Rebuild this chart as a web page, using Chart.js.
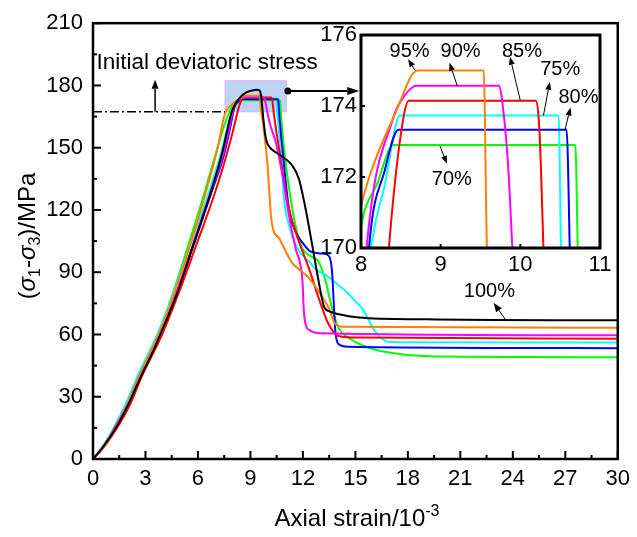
<!DOCTYPE html>
<html>
<head>
<meta charset="utf-8">
<script src="https://cdn.jsdelivr.net/npm/chart.js@4.4.0/dist/chart.umd.min.js"></script>
<style>
  html, body { margin: 0; padding: 0; background: #fff; }
  #wrap { position: relative; width: 637px; height: 537px; }
  #mainChart { position: absolute; left: 0; top: 0; }
  #insetChart { position: absolute; left: 290px; top: 15px; }
</style>
</head>
<body>
<div id="wrap">
  <canvas id="mainChart" width="637" height="537"></canvas>
  <canvas id="insetChart" width="330" height="290"></canvas>
</div>
<script>
// curve data (axial strain /10^-3, deviatoric stress /MPa)
const strain100 = [0, 0.5, 1.4, 2.0, 2.72, 3.3, 3.85, 4.79, 5.73, 6.68, 7.4, 7.9, 8.2, 8.5, 8.8, 9.1, 9.4, 9.55, 9.65, 9.75, 9.89, 10.1, 10.45, 11.0, 11.4, 11.77, 12.15, 12.53, 12.9, 13.2, 13.5, 14.2, 15.2, 19.0, 30];
const stress100 = [0, 5, 16.3, 26, 39.4, 49.5, 60.1, 79.3, 103.2, 127.1, 148, 166.5, 172, 175, 176.8, 177.6, 177.9, 177.3, 172, 163, 154.2, 150.3, 147.8, 144.6, 141.3, 135, 120.7, 103.2, 85.6, 73.5, 71.2, 69.5, 68.2, 67.3, 66.8];

const strain95 = [0, 0.6, 1.35, 2.0, 2.65, 3.75, 4.65, 5.55, 6.5, 7.1, 7.53, 8.0, 8.45, 8.71, 9.54, 9.58, 9.7, 9.98, 10.17, 10.3, 10.64, 11.02, 11.39, 11.77, 12.34, 12.9, 13.47, 13.85, 14.3, 30];
const stress95 = [0, 6, 16, 27, 40, 60, 80, 103, 130, 149, 166, 171.2, 173.9, 175, 175, 170, 163, 141.5, 117.5, 110.5, 106.4, 100, 94.4, 91.5, 87.2, 80.8, 72.9, 65, 63.7, 63.3];

const strain90 = [0, 0.6, 1.3, 2.0, 2.65, 3.8, 4.75, 5.7, 6.7, 7.45, 7.8, 8.07, 8.41, 8.55, 8.7, 9.73, 9.79, 9.85, 9.9, 10.1, 10.45, 10.83, 11.2, 11.6, 11.87, 11.98, 12.05, 12.15, 12.4, 13.0, 30];
const stress90 = [0, 6, 16, 27, 40, 60, 80, 103, 128, 147, 160, 170, 173.7, 174.3, 174.57, 174.57, 173.8, 172.2, 170, 162, 152.6, 136.7, 117.5, 101, 93, 85, 72, 65, 62, 60.6, 59.6];

const strain85 = [0, 0.6, 1.45, 2.1, 2.8, 3.95, 4.9, 5.9, 7.0, 7.65, 8.0, 8.2, 8.35, 8.5, 8.6, 10.19, 10.24, 10.29, 10.36, 10.64, 11.2, 11.77, 12.34, 12.9, 13.47, 14.03, 15.36, 30];
const stress85 = [0, 5.5, 16, 26, 40, 60, 80, 103, 129, 147, 158, 165, 170, 173.2, 174.15, 174.15, 173.3, 170, 165, 149.4, 120.7, 104.8, 92, 77.6, 64.9, 59.3, 58.5, 58.0];

const strain80 = [0, 0.6, 1.4, 2.0, 2.72, 3.85, 4.8, 5.75, 6.75, 7.5, 7.85, 8.1, 8.3, 8.47, 10.58, 10.62, 10.66, 10.83, 11.2, 11.58, 12.0, 12.43, 13.1, 13.47, 13.66, 13.75, 13.85, 14.03, 14.6, 30];
const stress80 = [0, 6, 16, 26, 40, 60, 80, 103, 128, 147, 160, 170, 172.2, 173.33, 173.33, 170, 165, 149.4, 120.7, 109.6, 104, 100, 99, 98, 91, 77.6, 62, 55.4, 54.1, 53.4];

const strain75 = [0, 0.6, 1.25, 1.9, 2.55, 3.68, 4.6, 5.55, 6.6, 7.3, 7.7, 7.95, 8.125, 8.3, 8.49, 10.48, 10.51, 10.55, 10.73, 10.92, 11.2, 11.68, 12.34, 12.8, 13.29, 14.0, 14.5, 15.0, 15.36, 15.7, 16.11, 16.87, 18, 30];
const stress75 = [0, 6.5, 16, 27, 40, 60, 80, 103, 128, 147, 160, 166, 170, 171.8, 173.73, 173.73, 170, 165, 149.4, 125.5, 112.8, 101.6, 95.2, 91, 88.8, 84, 80.5, 76, 72.9, 68, 61.7, 56.5, 56.2, 56.1];

const strain70 = [0, 0.6, 1.3, 2.0, 2.6, 3.7, 4.57, 5.45, 6.4, 7.05, 7.55, 8.0, 8.2, 8.41, 10.69, 10.72, 10.76, 10.92, 11.39, 11.7, 12.0, 12.5, 12.9, 13.3, 13.66, 14.03, 14.6, 15.73, 17.6, 21, 30];
const stress70 = [0, 6.5, 16, 28, 40, 60, 80, 103, 129, 148, 162, 170.6, 171.8, 172.9, 172.9, 170, 165, 149.4, 120.7, 108, 101, 97.5, 95, 85.6, 72.9, 63.3, 58.5, 53.7, 50.5, 49.3, 49.0];

const seriesNames = ["100%", "95%", "90%", "85%", "80%", "75%", "70%"];
const seriesColors = ["#000000", "#ff8000", "#ff00ff", "#ff0000", "#0000ff", "#00ffff", "#00ff00"];

const xTicks = [0, 3, 6, 9, 12, 15, 18, 21, 24, 27, 30];
const yTicks = [0, 30, 60, 90, 120, 150, 180, 210];
const insetXTicks = [8, 9, 10, 11];
const insetYTicks = [170, 172, 174, 176];

const FONT = "'Liberation Sans', Arial, sans-serif";

const allStrain = [strain100, strain95, strain90, strain85, strain80, strain75, strain70];
const allStress = [stress100, stress95, stress90, stress85, stress80, stress75, stress70];

const makeDatasets = (skip) =>
  seriesNames
    .map((name, i) => ({
      label: name,
      data: allStrain[i].map((x, j) => ({ x: x, y: allStress[i][j] })),
      borderColor: seriesColors[i],
      borderWidth: 2,
      pointRadius: 0,
      fill: false,
      cubicInterpolationMode: "monotone",
    }))
    .filter((d) => !skip.includes(d.label));

function arrow(ctx, x1, y1, x2, y2, head, half, lw) {
  const a = Math.atan2(y2 - y1, x2 - x1);
  const bx = x2 - head * Math.cos(a);
  const by = y2 - head * Math.sin(a);
  ctx.lineWidth = lw;
  ctx.beginPath();
  ctx.moveTo(x1, y1);
  ctx.lineTo(bx, by);
  ctx.stroke();
  ctx.beginPath();
  ctx.moveTo(x2, y2);
  ctx.lineTo(bx + half * Math.sin(a), by - half * Math.cos(a));
  ctx.lineTo(bx - half * Math.sin(a), by + half * Math.cos(a));
  ctx.closePath();
  ctx.fill();
}

// frame + inward tick marks
const frameTicks = (id, majX, minX, majY, minY, lenMaj, lenMin, lw) => ({
  id: id,
  afterDatasetsDraw(chart) {
    const { ctx, chartArea: a, scales } = chart;
    ctx.save();
    ctx.strokeStyle = "#000";
    ctx.lineCap = "butt";
    const sx = scales.x, sy = scales.y;
    const tick = (px, py, dx, dy) => {
      ctx.beginPath();
      ctx.moveTo(px, py);
      ctx.lineTo(px + dx, py + dy);
      ctx.stroke();
    };
    ctx.lineWidth = 2;
    for (let v = sx.min; v <= sx.max + 1e-6; v += minX) {
      const major = Math.abs(v / majX - Math.round(v / majX)) < 1e-6;
      tick(sx.getPixelForValue(v), a.bottom, 0, -(major ? lenMaj : lenMin));
    }
    for (let v = sy.min; v <= sy.max + 1e-6; v += minY) {
      const major = Math.abs(v / majY - Math.round(v / majY)) < 1e-6;
      tick(a.left, sy.getPixelForValue(v), major ? lenMaj : lenMin, 0);
    }
    ctx.lineWidth = lw;
    ctx.strokeRect(a.left, a.top, a.right - a.left, a.bottom - a.top);
    ctx.restore();
  },
});

function richText(ctx, parts, cx, cy, rot) {
  ctx.save();
  ctx.translate(cx, cy);
  ctx.rotate(rot);
  let total = 0;
  parts.forEach((p) => {
    ctx.font = p.f;
    p.w = ctx.measureText(p.t).width;
    total += p.w;
  });
  let x = -total / 2;
  ctx.textBaseline = "alphabetic";
  ctx.textAlign = "left";
  ctx.fillStyle = "#000";
  parts.forEach((p) => {
    ctx.font = p.f;
    ctx.fillText(p.t, x, 8 + p.dy);
    x += p.w;
  });
  ctx.restore();
}

const mainDecor = {
  id: "mainDecor",
  beforeDatasetsDraw(chart) {
    const { ctx, scales: { x, y } } = chart;
    // highlighted peak window
    const x0 = x.getPixelForValue(7.55), x1 = x.getPixelForValue(11.05);
    const y0 = y.getPixelForValue(182.3), y1 = y.getPixelForValue(167.3);
    ctx.save();
    ctx.fillStyle = "rgb(187,212,246)";
    ctx.fillRect(x0, y0, x1 - x0, y1 - y0);
    ctx.strokeStyle = "rgb(240,170,240)";
    ctx.lineWidth = 1;
    ctx.strokeRect(x0, y0, x1 - x0, y1 - y0);
    ctx.restore();
  },
  afterDatasetsDraw(chart) {
    const { ctx, scales: { x, y } } = chart;
    ctx.save();
    ctx.strokeStyle = "#000";
    ctx.fillStyle = "#000";
    // initial deviatoric stress line
    ctx.setLineDash([9, 3, 2, 3]);
    ctx.lineWidth = 1.5;
    ctx.beginPath();
    ctx.moveTo(x.getPixelForValue(0), y.getPixelForValue(167.3));
    ctx.lineTo(x.getPixelForValue(7.55), y.getPixelForValue(167.3));
    ctx.stroke();
    ctx.setLineDash([]);
    arrow(ctx, x.getPixelForValue(3.55), y.getPixelForValue(167.3), x.getPixelForValue(3.55), y.getPixelForValue(182.7), 9, 3.5, 1.5);
    ctx.font = "22.5px " + FONT;
    ctx.textBaseline = "middle";
    ctx.textAlign = "left";
    ctx.fillText("Initial deviatoric stress", x.getPixelForValue(0.2), y.getPixelForValue(190.9));
    // dot + arrow to the inset
    ctx.beginPath();
    ctx.arc(x.getPixelForValue(11.14), y.getPixelForValue(177.3), 3.5, 0, Math.PI * 2);
    ctx.fill();
    arrow(ctx, x.getPixelForValue(11.14), y.getPixelForValue(177.3), x.getPixelForValue(15.22), y.getPixelForValue(177.3), 12, 4, 2);
    // 100% label
    ctx.font = "20px " + FONT;
    ctx.textAlign = "center";
    ctx.fillText("100%", x.getPixelForValue(22.66), y.getPixelForValue(80.8));
    arrow(ctx, x.getPixelForValue(23.57), y.getPixelForValue(67.3), x.getPixelForValue(22.91), y.getPixelForValue(75.2), 9, 3.5, 1);
    ctx.restore();
  },
  afterDraw(chart) {
    const { ctx } = chart;
    const big = "24px " + FONT, it = "italic 24px " + FONT, sub = "16px " + FONT;
    richText(ctx, [
      { t: "(", f: big, dy: 0 },
      { t: "\u03c3", f: it, dy: 0 },
      { t: "1", f: sub, dy: 5 },
      { t: "-", f: big, dy: 0 },
      { t: "\u03c3", f: it, dy: 0 },
      { t: "3", f: sub, dy: 5 },
      { t: ")/MPa", f: big, dy: 0 },
    ], 27, 236, -Math.PI / 2);
    richText(ctx, [
      { t: "Axial strain/10", f: big, dy: 0 },
      { t: "-3", f: sub, dy: -10 },
    ], 357, 518, 0);
  },
};

const insetDecor = {
  id: "insetDecor",
  afterDatasetsDraw(chart) {
    const { ctx, scales: { x, y } } = chart;
    ctx.save();
    ctx.fillStyle = "#000";
    ctx.strokeStyle = "#000";
    ctx.font = "20px " + FONT;
    ctx.textAlign = "center";
    ctx.textBaseline = "middle";
    const notes = [
      ["95%", 8.61, 175.53, 8.68, 175.0, 8.59, 175.32],
      ["90%", 9.25, 175.53, 9.21, 174.56, 9.11, 175.22],
      ["85%", 10.02, 175.53, 10.0, 174.15, 9.87, 175.39],
      ["75%", 10.5, 175.03, 10.29, 173.73, 10.37, 174.68],
      ["80%", 10.73, 174.25, 10.56, 173.32, 10.63, 173.96],
      ["70%", 9.14, 171.92, 8.99, 172.88, 9.08, 172.37],
    ];
    notes.forEach(([t, lx, ly, ax, ay, bx, by]) => {
      ctx.fillText(t, x.getPixelForValue(lx), y.getPixelForValue(ly));
      arrow(ctx, x.getPixelForValue(ax), y.getPixelForValue(ay), x.getPixelForValue(bx), y.getPixelForValue(by), 8, 3, 1);
    });
    ctx.restore();
  },
};

const axisCommon = (ticks, pad, fontSize) => ({
  type: "linear",
  grid: { display: false, drawTicks: false },
  border: { display: false },
  afterBuildTicks: (s) => { s.ticks = ticks.map((v) => ({ value: v })); },
  ticks: { padding: pad, color: "#000", font: { family: FONT, size: fontSize } },
});

new Chart(document.getElementById("mainChart"), {
  type: "line",
  data: { datasets: makeDatasets([]) },
  options: {
    responsive: false,
    animation: false,
    layout: { padding: { left: 0, top: 20, right: 15, bottom: 0 } },
    plugins: { legend: { display: false }, tooltip: { enabled: false } },
    scales: {
      x: { ...axisCommon(xTicks, 7, 22), min: 0, max: 30, afterFit: (s) => { s.height = 78; } },
      y: { ...axisCommon(yTicks, 10, 22), min: 0, max: 210, afterFit: (s) => { s.width = 93; } },
    },
  },
  plugins: [mainDecor, frameTicks("mainFrame", 3, 1.5, 30, 15, 8, 4, 2.5)],
});

new Chart(document.getElementById("insetChart"), {
  type: "line",
  data: { datasets: makeDatasets(["100%"]) },
  options: {
    responsive: false,
    animation: false,
    layout: { padding: { left: 0, top: 20, right: 20, bottom: 0 } },
    plugins: { legend: { display: false }, tooltip: { enabled: false } },
    scales: {
      x: { ...axisCommon(insetXTicks, 4, 22), min: 8, max: 11, afterFit: (s) => { s.height = 57; } },
      y: { ...axisCommon(insetYTicks, 4, 22), min: 170, max: 176, afterFit: (s) => { s.width = 71; } },
    },
  },
  plugins: [insetDecor, frameTicks("insetFrame", 1, 1, 2, 2, 4, 4, 3)],
});
</script>
</body>
</html>
